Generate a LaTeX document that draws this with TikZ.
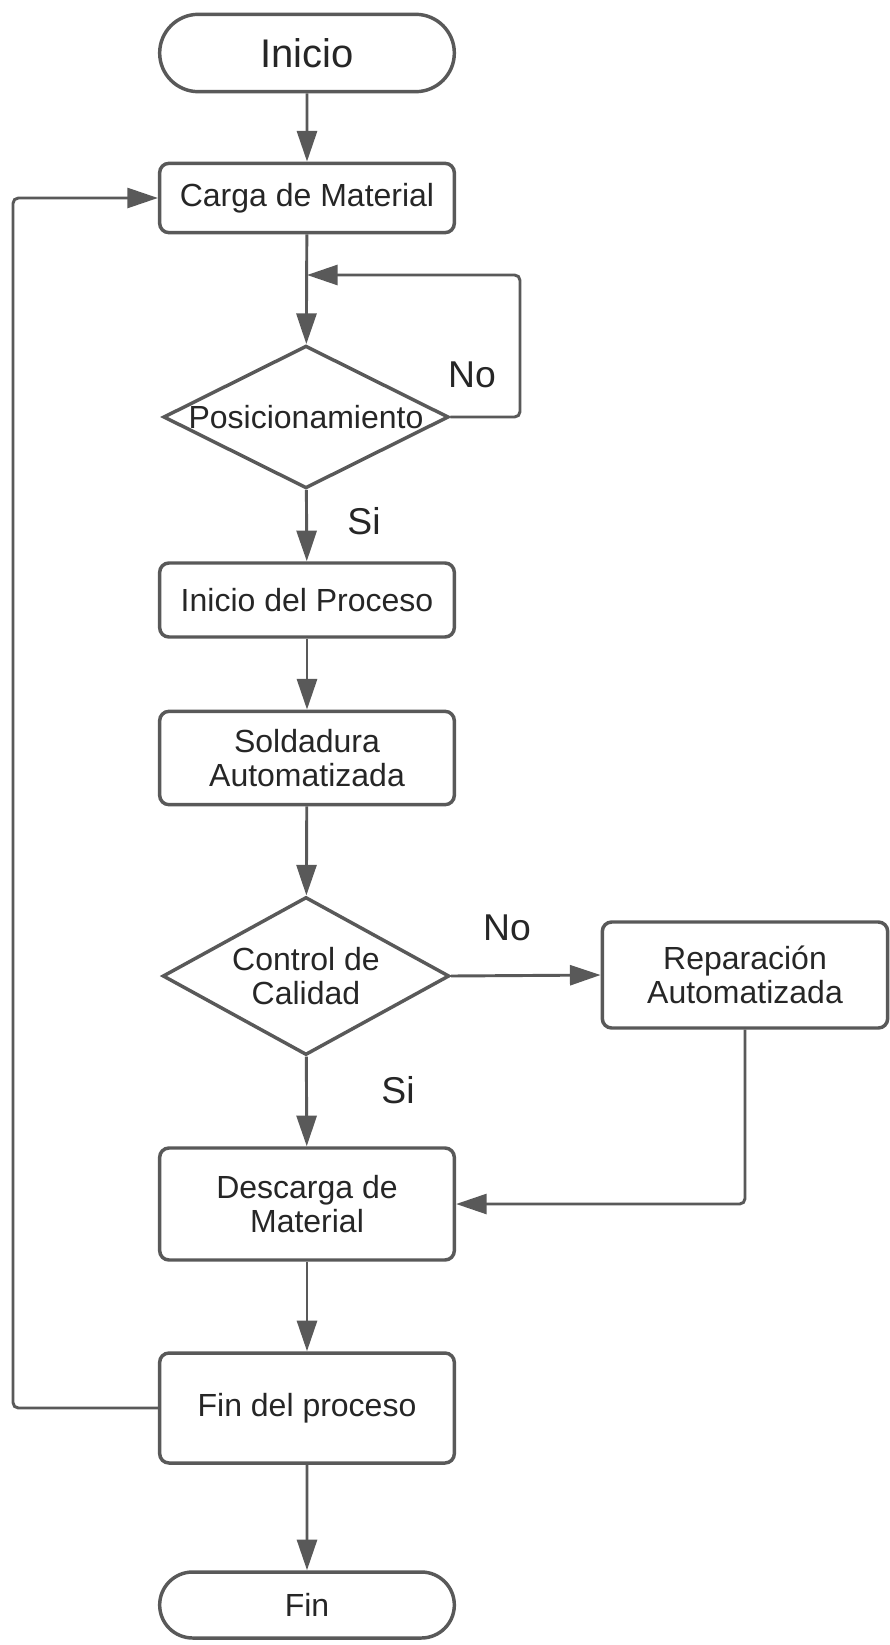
\documentclass[tikz,border=0pt]{standalone}
\usepackage{fontspec}
\setmainfont{Liberation Sans}
\usetikzlibrary{shapes.geometric,shapes.misc,arrows.meta}

\definecolor{linea}{HTML}{595959}
\definecolor{texto}{HTML}{262626}

\tikzset{every picture/.style={line width=0.75pt}}
\tikzset{
  caja/.style={draw=linea, line width=2.6pt, rounded corners=7pt, minimum width=221pt, inner sep=0pt, align=center, text=texto, font=\fontsize{24}{26}\selectfont},
  terminal/.style={rounded rectangle, draw=linea, line width=2.6pt, minimum width=221pt, inner sep=0pt, text=texto},
  decision/.style={diamond, draw=linea, line width=2.6pt, inner sep=0pt},
  rotulo/.style={text=texto, align=center, inner sep=0pt, font=\fontsize{24}{26}\selectfont},
  flecha/.style={draw=linea, line width=2.2pt, rounded corners=4pt, -{Triangle[length=23pt,width=15pt]}},
  etiqueta/.style={text=texto, inner sep=0pt, font=\fontsize{28}{30}\selectfont}
}

\begin{document}
\begin{tikzpicture}[x=0.75pt,y=0.75pt,yscale=-1,xscale=1]
\useasboundingbox (0,0) rectangle (889,1645);

%Shape: Terminal
\node[terminal, minimum height=58pt, font=\fontsize{30}{32}\selectfont] (inicio) at (307,53) {Inicio};
%Shape: Rectangle
\node[caja, minimum height=52pt] (carga) at (307,198) {Carga de Material};
%Shape: Diamond
\node[decision, minimum width=214pt, minimum height=107pt, label={[rotulo]center:Posicionamiento}] (pos) at (306,417) {};
%Shape: Rectangle
\node[caja, minimum height=55.5pt] (inproc) at (307,600) {Inicio del Proceso};
%Shape: Rectangle
\node[caja, minimum height=70pt] (sold) at (307,758) {Soldadura\\Automatizada};
%Shape: Diamond
\node[decision, minimum width=215pt, minimum height=118.5pt, label={[rotulo]center:{Control de\\Calidad}}] (ctrl) at (306,976) {};
%Shape: Rectangle
\node[caja, minimum width=214pt, minimum height=79.5pt] (repar) at (745,975) {Reparación\\Automatizada};
%Shape: Rectangle
\node[caja, minimum height=84pt] (desc) at (307,1204) {Descarga de\\Material};
%Shape: Rectangle
\node[caja, minimum height=82.5pt] (finproc) at (307,1408) {Fin del proceso};
%Shape: Terminal
\node[terminal, minimum height=49.5pt, font=\fontsize{24}{26}\selectfont] (fin) at (307,1605) {Fin};

% corner points of the loops
\coordinate (esquina) at (520,275);
\coordinate (retorno) at (307,275);
\coordinate (izq) at (13,1408);

%Straight Lines
\draw[flecha] (inicio) -- (carga);
\draw[flecha] (carga) -- (pos);
\draw[flecha] (pos.east) -| (esquina) -- (retorno);
\draw[flecha] (pos) -- (inproc);
\draw[flecha] (inproc) -- (sold);
\draw[flecha] (sold) -- (ctrl);
\draw[flecha] (ctrl.east) -- (repar.west);
\draw[flecha] (ctrl) -- (desc);
\draw[flecha] (repar.south) |- (desc.east);
\draw[flecha] (desc) -- (finproc);
\draw[flecha] (finproc) -- (fin);
\draw[flecha] (finproc.west) -- (izq) |- (carga.west);

% Text Node
\node[etiqueta] (no1) at (472,375) {No};
% Text Node
\node[etiqueta] (si1) at (364,521) {Si};
% Text Node
\node[etiqueta] (no2) at (507,928) {No};
% Text Node
\node[etiqueta] (si2) at (398,1090) {Si};

\end{tikzpicture}
\end{document}
